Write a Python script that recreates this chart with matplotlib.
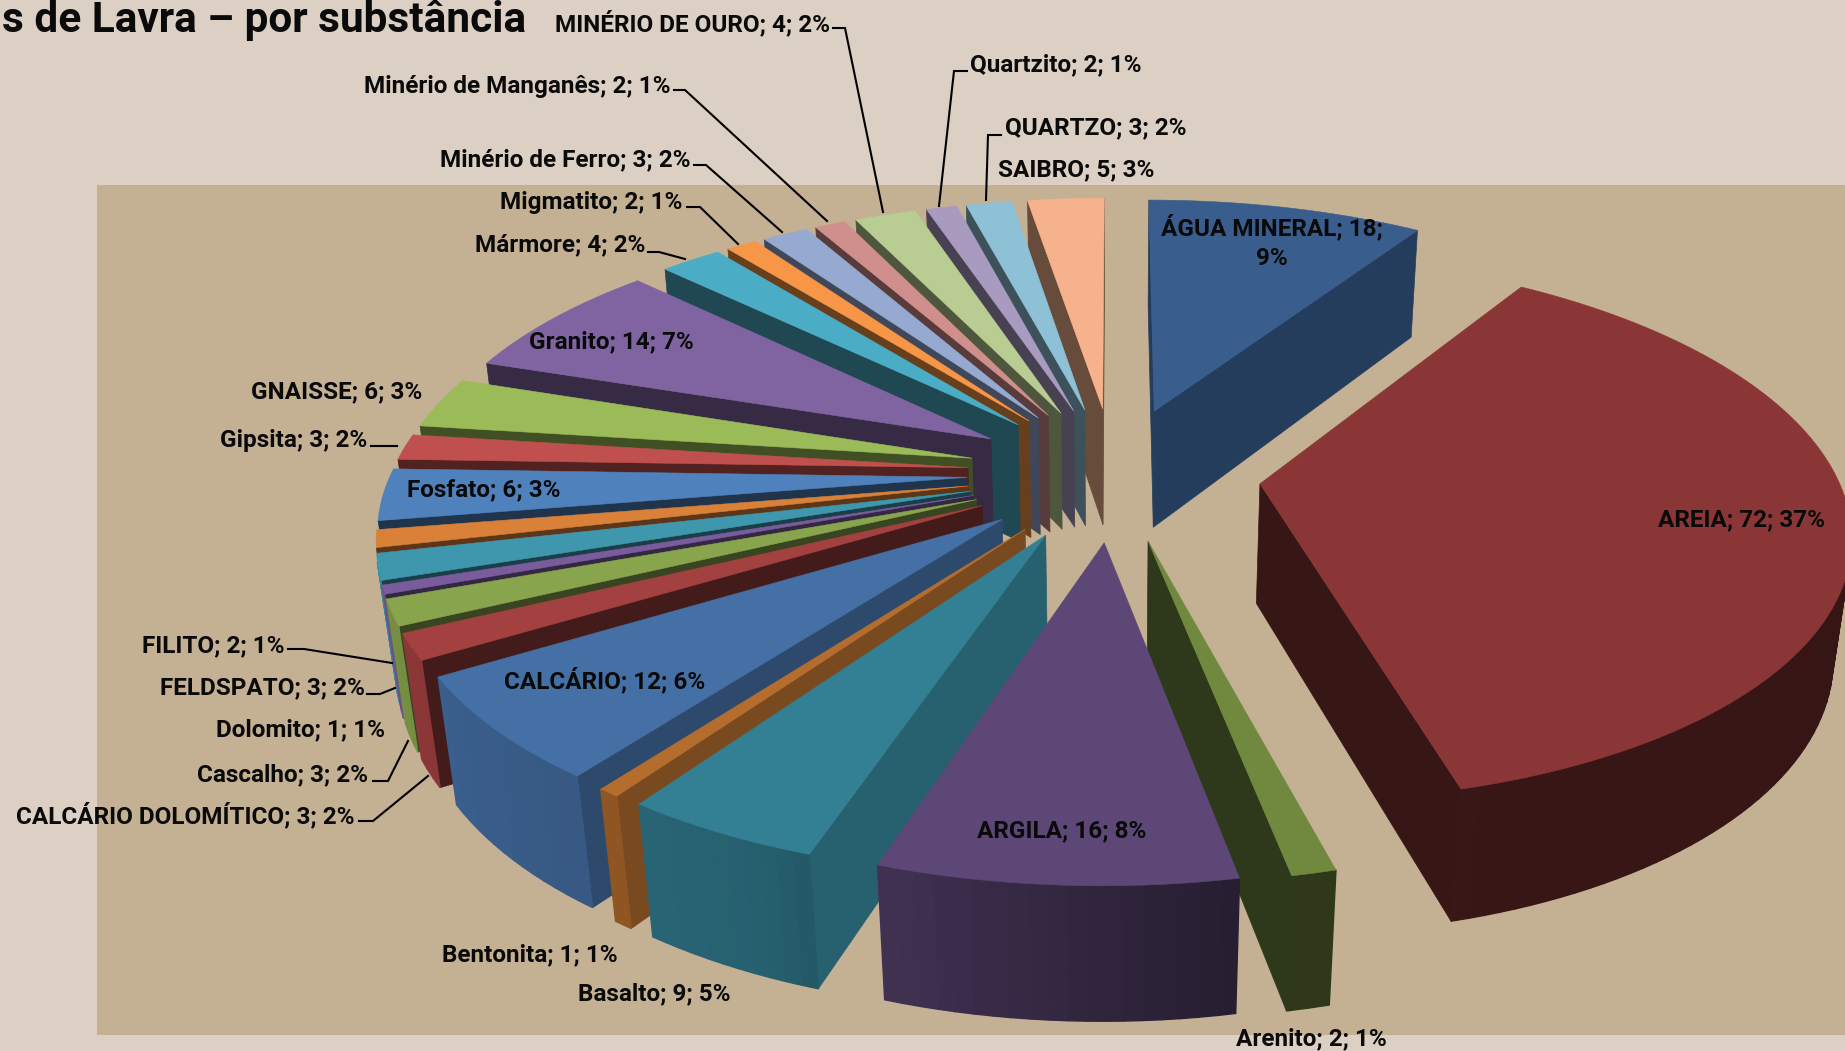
import matplotlib
matplotlib.use("Agg")
import matplotlib.pyplot as plt
import numpy as np

plt.rcParams['font.family'] = ['Roboto', 'DejaVu Sans']

# data, clockwise from 12 o'clock
names = ['ÁGUA MINERAL', 'AREIA', 'Arenito', 'ARGILA', 'Basalto', 'Bentonita',
         'CALCÁRIO', 'CALCÁRIO DOLOMÍTICO', 'Cascalho', 'Dolomito', 'FELDSPATO',
         'FILITO', 'Fosfato', 'Gipsita', 'GNAISSE', 'Granito', 'Mármore',
         'Migmatito', 'Minério de Ferro', 'Minério de Manganês', 'MINÉRIO DE OURO',
         'Quartzito', 'QUARTZO', 'SAIBRO']
values = [18, 72, 2, 16, 9, 1, 12, 3, 3, 1, 3, 2, 6, 3, 6, 14, 4, 2, 3, 2, 4, 2, 3, 5]
percents = [9, 37, 1, 8, 5, 1, 6, 2, 2, 1, 2, 1, 3, 2, 3, 7, 2, 1, 2, 1, 2, 1, 2, 3]

top_colors = ['#395E8D', '#8A3636', '#71893F', '#5D4776', '#338094', '#B56D2E',
              '#4570A6', '#A34040', '#88A44D', '#7A5C9C', '#3F97AE', '#D98039',
              '#4F81BD', '#C0504D', '#9BBB59', '#8064A2', '#4BACC6', '#F79646',
              '#95A9D1', '#D08E8C', '#B9CD93', '#A99BC0', '#8FC1D6', '#F6B28C']
side_shade = [.65, .40, .41, .50, .76, .67, .65, .42, .42, .42, .42, .42,
              .40, .42, .42, .42, .42, .42, .42, .42, .42, .42, .42, .42]

# label layout in pixels: anchor x, y, ha
label_pos = {
    'ÁGUA MINERAL': (1272, 241, 'center'), 'AREIA': (1741, 519, 'center'),
    'Arenito': (1311, 1038, 'center'), 'ARGILA': (1062, 830, 'center'),
    'Basalto': (654, 993, 'center'), 'Bentonita': (530, 954, 'center'),
    'CALCÁRIO': (605, 679, 'center'), 'CALCÁRIO DOLOMÍTICO': (354, 814, 'right'),
    'Cascalho': (368, 774, 'right'), 'Dolomito': (385, 729, 'right'),
    'FELDSPATO': (365, 687, 'right'), 'FILITO': (284, 645, 'right'),
    'Fosfato': (484, 489, 'center'), 'Gipsita': (367, 440, 'right'),
    'GNAISSE': (337, 391, 'center'), 'Granito': (611, 341, 'center'),
    'Mármore': (645, 244, 'right'), 'Migmatito': (682, 201, 'right'),
    'Minério de Ferro': (691, 159, 'right'), 'Minério de Manganês': (670, 85, 'right'),
    'MINÉRIO DE OURO': (830, 22, 'right'), 'Quartzito': (970, 64, 'left'),
    'QUARTZO': (1005, 127, 'left'), 'SAIBRO': (998, 169, 'left'),
}
# leader polylines in pixels
leaders = {
    'MINÉRIO DE OURO': [(833, 28), (845, 28), (883, 212)],
    'Minério de Manganês': [(674, 90), (685, 90), (827, 221)],
    'Minério de Ferro': [(694, 165), (706, 165), (782, 232)],
    'Migmatito': [(687, 207), (700, 207), (738, 244)],
    'Mármore': [(648, 252), (659, 252), (685, 259)],
    'Quartzito': [(967, 71), (954, 71), (939, 206)],
    'QUARTZO': [(1001, 135), (988, 135), (986, 200)],
    'Gipsita': [(371, 446), (397, 446)],
    'FILITO': [(288, 649), (304, 649), (392, 663)],
    'FELDSPATO': [(367, 694), (380, 694), (395, 688)],
    'Cascalho': [(373, 781), (388, 781), (408, 741)],
    'CALCÁRIO DOLOMÍTICO': [(359, 821), (373, 821), (428, 776)],
}

# perspective of the pie plane, fitted to the picture
CX, CY = 1114.0, 473.0
SCALE_X, SCALE_Y, DEPTH = 576.0, 263.0, 122.0
PERSP, DROP = 0.16, 0.025
EXPLODE = 0.255


def project(px, py, z=0.0):
    w = 1 + PERSP * py + DROP * z
    return CX + SCALE_X * px / w, CY + (-SCALE_Y * py + DEPTH * z) / w


def shade(color, f):
    return tuple(c * f for c in matplotlib.colors.to_rgb(color))


def facing(poly):
    # screen y points down, so clockwise faces the viewer when area > 0
    xs, ys = zip(*poly)
    return 0.5 * sum(xs[i] * ys[(i + 1) % len(xs)] - xs[(i + 1) % len(xs)] * ys[i]
                     for i in range(len(xs)))


def arc_shade(deg):
    return np.interp(deg, [90, 170, 184, 205, 228, 260], [.38, .42, .55, .76, .82, .90])


fig = plt.figure(figsize=(18.45, 10.51), dpi=100, facecolor='#DCCFC3')
ax = fig.add_axes([0, 0, 1, 1])
ax.set_xlim(0, 1845)
ax.set_ylim(1051, 0)
ax.axis('off')
ax.fill_between([97, 1845], 185, 1035, color='#C4B093', lw=0)

edges = np.cumsum([0] + values) / sum(values) * 2 * np.pi
mids = (edges[:-1] + edges[1:]) / 2

# back slices first
order = sorted(range(len(values)), key=lambda i: -np.cos(mids[i]))
for i in order:
    t0, t1 = edges[i], edges[i + 1]
    ox, oy = EXPLODE * np.sin(mids[i]), EXPLODE * np.cos(mids[i])
    n = max(2, int(np.degrees(t1 - t0) / 1.5) + 1)
    ts = np.linspace(t0, t1, n)
    xs, ys = ox + np.sin(ts), oy + np.cos(ts)
    color = top_colors[i]

    # radial walls
    side = shade(color, side_shade[i])
    for t in (t0, t1):
        ex, ey = ox + np.sin(t), oy + np.cos(t)
        if t == t0:
            wall = [project(ox, oy), project(ox, oy, 1), project(ex, ey, 1), project(ex, ey)]
        else:
            wall = [project(ex, ey), project(ex, ey, 1), project(ox, oy, 1), project(ox, oy)]
        if facing(wall) > 0:
            ax.fill(*zip(*wall), color=side, lw=0.5, zorder=2)

    # outer wall, in narrow strips
    for j in range(n - 1):
        quad = [project(xs[j], ys[j]), project(xs[j], ys[j], 1),
                project(xs[j + 1], ys[j + 1], 1), project(xs[j + 1], ys[j + 1])]
        if facing(quad) > 0:
            c = shade(color, arc_shade(np.degrees((ts[j] + ts[j + 1]) / 2)))
            ax.fill(*zip(*quad), color=c, lw=1.0, zorder=2)

    top = [project(ox, oy)] + [project(a, b) for a, b in zip(xs, ys)]
    ax.fill(*zip(*top), color=color, lw=0.4, zorder=2)

# labels
for name, val, pct in zip(names, values, percents):
    x, y, ha = label_pos[name]
    text = f'{name}; {val}; {pct}%'
    if name == 'ÁGUA MINERAL':
        text = f'{name}; {val};\n{pct}%'
    ax.text(x, y + 1, text, ha=ha, va='center', fontsize=17.5, fontweight='bold',
            color='#0A0A0A', zorder=4, linespacing=1.4)

for pts in leaders.values():
    ax.plot(*zip(*pts), color='black', lw=1.5, zorder=3, solid_joinstyle='miter')

ax.text(526, 32, 's de Lavra – por substância', ha='right', va='baseline',
        fontsize=30.5, fontweight='bold', color='#0A0A0A', zorder=4)

fig.savefig('out.png', dpi=100, facecolor=fig.get_facecolor())
plt.close(fig)
